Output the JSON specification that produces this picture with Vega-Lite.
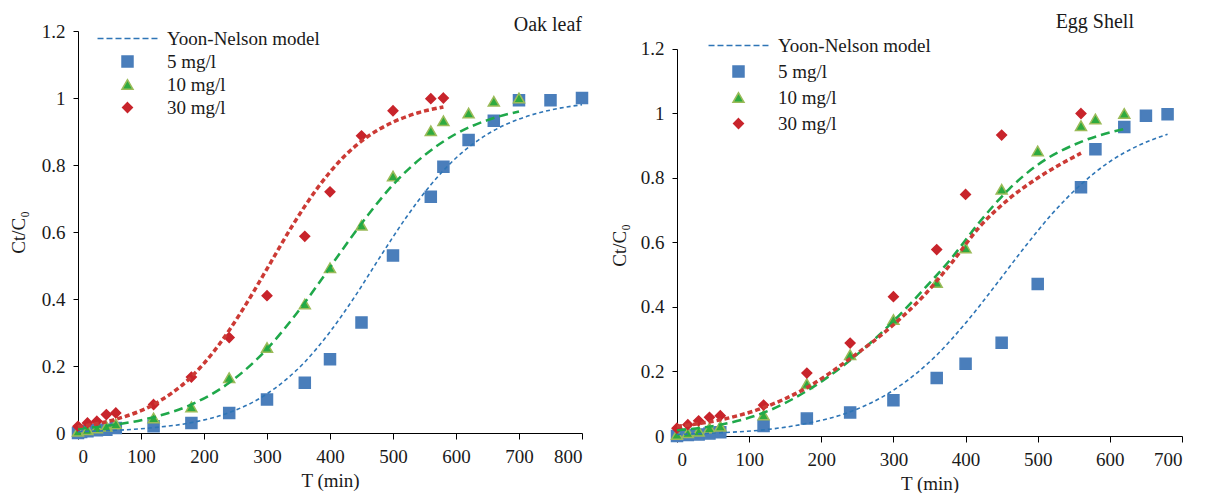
{
  "$schema": "https://vega.github.io/schema/vega-lite/v6.json",
  "background": "white",
  "padding": {"left": 9, "top": 12, "right": 5, "bottom": 0},
  "spacing": 19,
  "datasets": {
    "points": [
      {"panel": "L", "series": "5 mg/l", "T": 0, "C": 0.0},
      {"panel": "L", "series": "5 mg/l", "T": 5, "C": 0.003},
      {"panel": "L", "series": "5 mg/l", "T": 15, "C": 0.005},
      {"panel": "L", "series": "5 mg/l", "T": 30, "C": 0.008},
      {"panel": "L", "series": "5 mg/l", "T": 45, "C": 0.01},
      {"panel": "L", "series": "5 mg/l", "T": 60, "C": 0.015},
      {"panel": "L", "series": "5 mg/l", "T": 120, "C": 0.02},
      {"panel": "L", "series": "5 mg/l", "T": 180, "C": 0.03},
      {"panel": "L", "series": "5 mg/l", "T": 240, "C": 0.06},
      {"panel": "L", "series": "5 mg/l", "T": 300, "C": 0.10},
      {"panel": "L", "series": "5 mg/l", "T": 360, "C": 0.15},
      {"panel": "L", "series": "5 mg/l", "T": 400, "C": 0.22},
      {"panel": "L", "series": "5 mg/l", "T": 450, "C": 0.33},
      {"panel": "L", "series": "5 mg/l", "T": 500, "C": 0.53},
      {"panel": "L", "series": "5 mg/l", "T": 560, "C": 0.705},
      {"panel": "L", "series": "5 mg/l", "T": 580, "C": 0.795},
      {"panel": "L", "series": "5 mg/l", "T": 620, "C": 0.875},
      {"panel": "L", "series": "5 mg/l", "T": 660, "C": 0.932},
      {"panel": "L", "series": "5 mg/l", "T": 700, "C": 0.993},
      {"panel": "L", "series": "5 mg/l", "T": 750, "C": 0.993},
      {"panel": "L", "series": "5 mg/l", "T": 800, "C": 1.0},
      {"panel": "L", "series": "10 mg/l", "T": 0, "C": 0.005},
      {"panel": "L", "series": "10 mg/l", "T": 15, "C": 0.01},
      {"panel": "L", "series": "10 mg/l", "T": 30, "C": 0.015},
      {"panel": "L", "series": "10 mg/l", "T": 45, "C": 0.02},
      {"panel": "L", "series": "10 mg/l", "T": 60, "C": 0.027},
      {"panel": "L", "series": "10 mg/l", "T": 120, "C": 0.045},
      {"panel": "L", "series": "10 mg/l", "T": 180, "C": 0.078},
      {"panel": "L", "series": "10 mg/l", "T": 240, "C": 0.165},
      {"panel": "L", "series": "10 mg/l", "T": 300, "C": 0.255},
      {"panel": "L", "series": "10 mg/l", "T": 360, "C": 0.385},
      {"panel": "L", "series": "10 mg/l", "T": 400, "C": 0.493},
      {"panel": "L", "series": "10 mg/l", "T": 450, "C": 0.62},
      {"panel": "L", "series": "10 mg/l", "T": 500, "C": 0.767},
      {"panel": "L", "series": "10 mg/l", "T": 560, "C": 0.902},
      {"panel": "L", "series": "10 mg/l", "T": 580, "C": 0.932},
      {"panel": "L", "series": "10 mg/l", "T": 620, "C": 0.955},
      {"panel": "L", "series": "10 mg/l", "T": 660, "C": 0.99},
      {"panel": "L", "series": "10 mg/l", "T": 700, "C": 1.0},
      {"panel": "L", "series": "30 mg/l", "T": 0, "C": 0.02},
      {"panel": "L", "series": "30 mg/l", "T": 15, "C": 0.03},
      {"panel": "L", "series": "30 mg/l", "T": 30, "C": 0.035},
      {"panel": "L", "series": "30 mg/l", "T": 45, "C": 0.055},
      {"panel": "L", "series": "30 mg/l", "T": 60, "C": 0.06},
      {"panel": "L", "series": "30 mg/l", "T": 120, "C": 0.085},
      {"panel": "L", "series": "30 mg/l", "T": 180, "C": 0.167},
      {"panel": "L", "series": "30 mg/l", "T": 240, "C": 0.285},
      {"panel": "L", "series": "30 mg/l", "T": 300, "C": 0.41},
      {"panel": "L", "series": "30 mg/l", "T": 360, "C": 0.587},
      {"panel": "L", "series": "30 mg/l", "T": 400, "C": 0.72},
      {"panel": "L", "series": "30 mg/l", "T": 450, "C": 0.887},
      {"panel": "L", "series": "30 mg/l", "T": 500, "C": 0.962},
      {"panel": "L", "series": "30 mg/l", "T": 560, "C": 0.998},
      {"panel": "L", "series": "30 mg/l", "T": 580, "C": 1.0},
      {"panel": "R", "series": "5 mg/l", "T": 0, "C": 0.0},
      {"panel": "R", "series": "5 mg/l", "T": 15, "C": 0.003},
      {"panel": "R", "series": "5 mg/l", "T": 30, "C": 0.005},
      {"panel": "R", "series": "5 mg/l", "T": 45, "C": 0.008},
      {"panel": "R", "series": "5 mg/l", "T": 60, "C": 0.012},
      {"panel": "R", "series": "5 mg/l", "T": 120, "C": 0.031},
      {"panel": "R", "series": "5 mg/l", "T": 180, "C": 0.054},
      {"panel": "R", "series": "5 mg/l", "T": 240, "C": 0.073},
      {"panel": "R", "series": "5 mg/l", "T": 300, "C": 0.111},
      {"panel": "R", "series": "5 mg/l", "T": 360, "C": 0.18},
      {"panel": "R", "series": "5 mg/l", "T": 400, "C": 0.224},
      {"panel": "R", "series": "5 mg/l", "T": 450, "C": 0.289},
      {"panel": "R", "series": "5 mg/l", "T": 500, "C": 0.471},
      {"panel": "R", "series": "5 mg/l", "T": 560, "C": 0.771},
      {"panel": "R", "series": "5 mg/l", "T": 580, "C": 0.889},
      {"panel": "R", "series": "5 mg/l", "T": 620, "C": 0.958},
      {"panel": "R", "series": "5 mg/l", "T": 650, "C": 0.993},
      {"panel": "R", "series": "5 mg/l", "T": 680, "C": 0.998},
      {"panel": "R", "series": "10 mg/l", "T": 0, "C": 0.005},
      {"panel": "R", "series": "10 mg/l", "T": 15, "C": 0.01},
      {"panel": "R", "series": "10 mg/l", "T": 30, "C": 0.015},
      {"panel": "R", "series": "10 mg/l", "T": 45, "C": 0.025},
      {"panel": "R", "series": "10 mg/l", "T": 60, "C": 0.03},
      {"panel": "R", "series": "10 mg/l", "T": 120, "C": 0.065},
      {"panel": "R", "series": "10 mg/l", "T": 180, "C": 0.162},
      {"panel": "R", "series": "10 mg/l", "T": 240, "C": 0.252},
      {"panel": "R", "series": "10 mg/l", "T": 300, "C": 0.361},
      {"panel": "R", "series": "10 mg/l", "T": 360, "C": 0.476},
      {"panel": "R", "series": "10 mg/l", "T": 400, "C": 0.583},
      {"panel": "R", "series": "10 mg/l", "T": 450, "C": 0.765},
      {"panel": "R", "series": "10 mg/l", "T": 500, "C": 0.884},
      {"panel": "R", "series": "10 mg/l", "T": 560, "C": 0.962},
      {"panel": "R", "series": "10 mg/l", "T": 580, "C": 0.983},
      {"panel": "R", "series": "10 mg/l", "T": 620, "C": 1.0},
      {"panel": "R", "series": "30 mg/l", "T": 0, "C": 0.024},
      {"panel": "R", "series": "30 mg/l", "T": 15, "C": 0.035},
      {"panel": "R", "series": "30 mg/l", "T": 30, "C": 0.047},
      {"panel": "R", "series": "30 mg/l", "T": 45, "C": 0.058},
      {"panel": "R", "series": "30 mg/l", "T": 60, "C": 0.063},
      {"panel": "R", "series": "30 mg/l", "T": 120, "C": 0.096},
      {"panel": "R", "series": "30 mg/l", "T": 180, "C": 0.195},
      {"panel": "R", "series": "30 mg/l", "T": 240, "C": 0.288},
      {"panel": "R", "series": "30 mg/l", "T": 300, "C": 0.432},
      {"panel": "R", "series": "30 mg/l", "T": 360, "C": 0.578},
      {"panel": "R", "series": "30 mg/l", "T": 400, "C": 0.749},
      {"panel": "R", "series": "30 mg/l", "T": 450, "C": 0.933},
      {"panel": "R", "series": "30 mg/l", "T": 560, "C": 1.0}
    ],
    "curves": [
      {"panel": "L", "model": "5", "T": 0, "C": 0.004},
      {"panel": "L", "model": "5", "T": 60, "C": 0.008},
      {"panel": "L", "model": "5", "T": 120, "C": 0.016},
      {"panel": "L", "model": "5", "T": 180, "C": 0.031},
      {"panel": "L", "model": "5", "T": 240, "C": 0.061},
      {"panel": "L", "model": "5", "T": 300, "C": 0.117},
      {"panel": "L", "model": "5", "T": 360, "C": 0.212},
      {"panel": "L", "model": "5", "T": 400, "C": 0.302},
      {"panel": "L", "model": "5", "T": 440, "C": 0.409},
      {"panel": "L", "model": "5", "T": 480, "C": 0.527},
      {"panel": "L", "model": "5", "T": 520, "C": 0.641},
      {"panel": "L", "model": "5", "T": 560, "C": 0.741},
      {"panel": "L", "model": "5", "T": 600, "C": 0.821},
      {"panel": "L", "model": "5", "T": 650, "C": 0.892},
      {"panel": "L", "model": "5", "T": 700, "C": 0.937},
      {"panel": "L", "model": "5", "T": 750, "C": 0.964},
      {"panel": "L", "model": "5", "T": 800, "C": 0.98},
      {"panel": "L", "model": "10", "T": 0, "C": 0.013},
      {"panel": "L", "model": "10", "T": 60, "C": 0.025},
      {"panel": "L", "model": "10", "T": 120, "C": 0.047},
      {"panel": "L", "model": "10", "T": 180, "C": 0.085},
      {"panel": "L", "model": "10", "T": 240, "C": 0.15},
      {"panel": "L", "model": "10", "T": 300, "C": 0.251},
      {"panel": "L", "model": "10", "T": 340, "C": 0.34},
      {"panel": "L", "model": "10", "T": 380, "C": 0.441},
      {"panel": "L", "model": "10", "T": 420, "C": 0.548},
      {"panel": "L", "model": "10", "T": 460, "C": 0.65},
      {"panel": "L", "model": "10", "T": 500, "C": 0.741},
      {"panel": "L", "model": "10", "T": 550, "C": 0.829},
      {"panel": "L", "model": "10", "T": 600, "C": 0.893},
      {"panel": "L", "model": "10", "T": 650, "C": 0.934},
      {"panel": "L", "model": "10", "T": 700, "C": 0.96},
      {"panel": "L", "model": "30", "T": 0, "C": 0.019},
      {"panel": "L", "model": "30", "T": 60, "C": 0.041},
      {"panel": "L", "model": "30", "T": 120, "C": 0.085},
      {"panel": "L", "model": "30", "T": 180, "C": 0.168},
      {"panel": "L", "model": "30", "T": 220, "C": 0.254},
      {"panel": "L", "model": "30", "T": 260, "C": 0.364},
      {"panel": "L", "model": "30", "T": 300, "C": 0.49},
      {"panel": "L", "model": "30", "T": 340, "C": 0.618},
      {"panel": "L", "model": "30", "T": 380, "C": 0.731},
      {"panel": "L", "model": "30", "T": 420, "C": 0.821},
      {"panel": "L", "model": "30", "T": 460, "C": 0.885},
      {"panel": "L", "model": "30", "T": 500, "C": 0.928},
      {"panel": "L", "model": "30", "T": 540, "C": 0.956},
      {"panel": "L", "model": "30", "T": 580, "C": 0.973},
      {"panel": "R", "model": "5", "T": 0, "C": 0.005},
      {"panel": "R", "model": "5", "T": 60, "C": 0.01},
      {"panel": "R", "model": "5", "T": 120, "C": 0.019},
      {"panel": "R", "model": "5", "T": 180, "C": 0.039},
      {"panel": "R", "model": "5", "T": 240, "C": 0.075},
      {"panel": "R", "model": "5", "T": 300, "C": 0.142},
      {"panel": "R", "model": "5", "T": 360, "C": 0.251},
      {"panel": "R", "model": "5", "T": 400, "C": 0.35},
      {"panel": "R", "model": "5", "T": 440, "C": 0.463},
      {"panel": "R", "model": "5", "T": 480, "C": 0.58},
      {"panel": "R", "model": "5", "T": 520, "C": 0.689},
      {"panel": "R", "model": "5", "T": 560, "C": 0.78},
      {"panel": "R", "model": "5", "T": 600, "C": 0.851},
      {"panel": "R", "model": "5", "T": 640, "C": 0.901},
      {"panel": "R", "model": "5", "T": 680, "C": 0.936},
      {"panel": "R", "model": "10", "T": 0, "C": 0.018},
      {"panel": "R", "model": "10", "T": 60, "C": 0.035},
      {"panel": "R", "model": "10", "T": 120, "C": 0.072},
      {"panel": "R", "model": "10", "T": 180, "C": 0.14},
      {"panel": "R", "model": "10", "T": 240, "C": 0.235},
      {"panel": "R", "model": "10", "T": 300, "C": 0.356},
      {"panel": "R", "model": "10", "T": 340, "C": 0.45},
      {"panel": "R", "model": "10", "T": 380, "C": 0.55},
      {"panel": "R", "model": "10", "T": 420, "C": 0.665},
      {"panel": "R", "model": "10", "T": 460, "C": 0.765},
      {"panel": "R", "model": "10", "T": 500, "C": 0.841},
      {"panel": "R", "model": "10", "T": 560, "C": 0.912},
      {"panel": "R", "model": "10", "T": 620, "C": 0.952},
      {"panel": "R", "model": "30", "T": 0, "C": 0.03},
      {"panel": "R", "model": "30", "T": 60, "C": 0.05},
      {"panel": "R", "model": "30", "T": 120, "C": 0.088},
      {"panel": "R", "model": "30", "T": 180, "C": 0.15},
      {"panel": "R", "model": "30", "T": 240, "C": 0.24},
      {"panel": "R", "model": "30", "T": 300, "C": 0.345},
      {"panel": "R", "model": "30", "T": 340, "C": 0.43},
      {"panel": "R", "model": "30", "T": 380, "C": 0.535},
      {"panel": "R", "model": "30", "T": 420, "C": 0.65},
      {"panel": "R", "model": "30", "T": 460, "C": 0.735},
      {"panel": "R", "model": "30", "T": 500, "C": 0.8},
      {"panel": "R", "model": "30", "T": 560, "C": 0.877}
    ]
  },
  "hconcat": [
    {
      "width": 504,
      "height": 402,
      "title": {"text": "Oak leaf", "anchor": "end", "frame": "group", "offset": -13},
      "encoding": {
        "x": {"field": "T", "type": "quantitative", "scale": {"domain": [0, 800], "nice": false, "zero": true},
              "axis": {"values": [0, 100, 200, 300, 400, 500, 600, 700, 800], "title": "T (min)", "labelFont": "Liberation Serif", "titleFont": "Liberation Serif"}},
        "y": {"field": "C", "type": "quantitative", "scale": {"domain": [0, 1.2], "nice": false},
              "axis": {"values": [0, 0.2, 0.4, 0.6, 0.8, 1, 1.2], "format": "~g", "title": "Ct/C₀", "labelFont": "Liberation Serif", "titleFont": "Liberation Serif", "titleX": -60, "titleBaseline": "middle"}}
      },
      "layer": [
        {
          "data": {"name": "points"},
          "transform": [{"filter": "datum.panel == 'L'"}],
          "mark": {"type": "point", "filled": true, "size": 121, "opacity": 1, "strokeWidth": 1.5},
          "encoding": {
            "shape": {"field": "series", "type": "nominal",
              "scale": {"domain": ["Yoon-Nelson model", "5 mg/l", "10 mg/l", "30 mg/l"],
                        "range": ["M-5.45,0H-4.36M-3.82,0H-2.73M-2.18,0H-1.09M-0.55,0H0.55M1.09,0H2.18M2.73,0H3.82M4.36,0H5.45", "square", "triangle-up", "M0,-0.88L0.88,0L0,0.88L-0.88,0Z"]},
              "legend": {"title": null, "orient": "none", "legendX": 40, "legendY": -2, "labelFont": "Liberation Serif"}},
            "fill": {"field": "series", "type": "nominal",
              "scale": {"domain": ["Yoon-Nelson model", "5 mg/l", "10 mg/l", "30 mg/l"],
                        "range": ["transparent", "#4A7EBB", "#2EAA3F", "#C8242B"]},
              "legend": {"title": null, "orient": "none", "legendX": 40, "legendY": -2, "labelFont": "Liberation Serif"}},
            "stroke": {"field": "series", "type": "nominal",
              "scale": {"domain": ["Yoon-Nelson model", "5 mg/l", "10 mg/l", "30 mg/l"],
                        "range": ["#2E75B6", "#4A7EBB", "#9BBB59", "#C8242B"]},
              "legend": {"title": null, "orient": "none", "legendX": 40, "legendY": -2, "labelFont": "Liberation Serif"}}
          }
        },
        {
          "data": {"name": "curves"},
          "transform": [{"filter": "datum.panel == 'L'"}],
          "mark": {"type": "line", "interpolate": "monotone"},
          "encoding": {
            "color": {"field": "model", "type": "nominal", "scale": {"domain": ["5", "10", "30"], "range": ["#2E75B6", "#1FA84A", "#CC3A35"]}, "legend": null},
            "strokeDash": {"field": "model", "type": "nominal", "scale": {"domain": ["5", "10", "30"], "range": [[4, 3], [9, 5], [5, 3]]}, "legend": null},
            "strokeWidth": {"field": "model", "type": "nominal", "scale": {"domain": ["5", "10", "30"], "range": [1.6, 3.5, 1.4]}, "legend": null}
          }
        }
      ]
    },
    {
      "width": 505,
      "height": 405,
      "title": {"text": "Egg Shell", "anchor": "end", "frame": "group", "offset": -1, "dx": -48},
      "encoding": {
        "x": {"field": "T", "type": "quantitative", "scale": {"domain": [0, 700], "nice": false, "zero": true},
              "axis": {"values": [0, 100, 200, 300, 400, 500, 600, 700], "title": "T (min)", "labelFont": "Liberation Serif", "titleFont": "Liberation Serif"}},
        "y": {"field": "C", "type": "quantitative", "scale": {"domain": [0, 1.25581], "nice": false},
              "axis": {"values": [0, 0.2, 0.4, 0.6, 0.8, 1, 1.2], "format": "~g", "title": "Ct/C₀", "domainDash": [387, 100], "titleY": 214, "labelFont": "Liberation Serif", "titleFont": "Liberation Serif", "titleX": -58, "titleBaseline": "middle"}}
      },
      "layer": [
        {
          "data": {"name": "points"},
          "transform": [{"filter": "datum.panel == 'R'"}],
          "mark": {"type": "point", "filled": true, "size": 121, "opacity": 1, "strokeWidth": 1.5},
          "encoding": {
            "shape": {"field": "series", "type": "nominal",
              "scale": {"domain": ["Yoon-Nelson model", "5 mg/l", "10 mg/l", "30 mg/l"],
                        "range": ["M-5.45,0H-4.36M-3.82,0H-2.73M-2.18,0H-1.09M-0.55,0H0.55M1.09,0H2.18M2.73,0H3.82M4.36,0H5.45", "square", "triangle-up", "M0,-0.88L0.88,0L0,0.88L-0.88,0Z"]},
              "legend": {"title": null, "orient": "none", "legendX": 52, "legendY": 5, "rowPadding": 6, "labelFont": "Liberation Serif"}},
            "fill": {"field": "series", "type": "nominal",
              "scale": {"domain": ["Yoon-Nelson model", "5 mg/l", "10 mg/l", "30 mg/l"],
                        "range": ["transparent", "#4A7EBB", "#2EAA3F", "#C8242B"]},
              "legend": {"title": null, "orient": "none", "legendX": 52, "legendY": 5, "rowPadding": 6, "labelFont": "Liberation Serif"}},
            "stroke": {"field": "series", "type": "nominal",
              "scale": {"domain": ["Yoon-Nelson model", "5 mg/l", "10 mg/l", "30 mg/l"],
                        "range": ["#2E75B6", "#4A7EBB", "#9BBB59", "#C8242B"]},
              "legend": {"title": null, "orient": "none", "legendX": 52, "legendY": 5, "rowPadding": 6, "labelFont": "Liberation Serif"}}
          }
        },
        {
          "data": {"name": "curves"},
          "transform": [{"filter": "datum.panel == 'R'"}],
          "mark": {"type": "line", "interpolate": "monotone"},
          "encoding": {
            "color": {"field": "model", "type": "nominal", "scale": {"domain": ["5", "10", "30"], "range": ["#2E75B6", "#1FA84A", "#CC3A35"]}, "legend": null},
            "strokeDash": {"field": "model", "type": "nominal", "scale": {"domain": ["5", "10", "30"], "range": [[4, 3], [9, 5], [5, 3]]}, "legend": null},
            "strokeWidth": {"field": "model", "type": "nominal", "scale": {"domain": ["5", "10", "30"], "range": [1.6, 3.5, 1.4]}, "legend": null}
          }
        }
      ]
    }
  ],
  "resolve": {
    "scale": {"x": "independent", "y": "independent", "color": "independent", "fill": "independent", "stroke": "independent", "shape": "independent", "strokeDash": "independent", "strokeWidth": "independent"},
    "legend": {"fill": "independent", "stroke": "independent", "shape": "independent"}
  },
  "config": {
    "view": {"stroke": null},
    "font": "Liberation Serif",
    "axis": {
      "grid": false,
      "domainColor": "#000000",
      "tickColor": "#000000",
      "domainWidth": 1,
      "tickWidth": 1,
      "labelFont": "Liberation Serif",
      "labelFontSize": 19,
      "labelColor": "#1a1a1a",
      "titleFont": "Liberation Serif",
      "titleFontSize": 19,
      "titleFontWeight": "normal",
      "titleColor": "#1a1a1a"
    },
    "axisX": {"tickSize": 6, "labelPadding": 8, "titlePadding": 5},
    "axisY": {"tickSize": 5, "labelPadding": 8},
    "legend": {
      "labelFont": "Liberation Serif",
      "labelFontSize": 19,
      "labelColor": "#1a1a1a",
      "symbolStrokeWidth": 1.5,
      "symbolSize": 121,
      "labelOffset": 30,
      "rowPadding": 3,
      "padding": 0
    },
    "title": {"font": "Liberation Serif", "fontSize": 20, "fontWeight": "normal", "color": "#1a1a1a"}
  }
}
